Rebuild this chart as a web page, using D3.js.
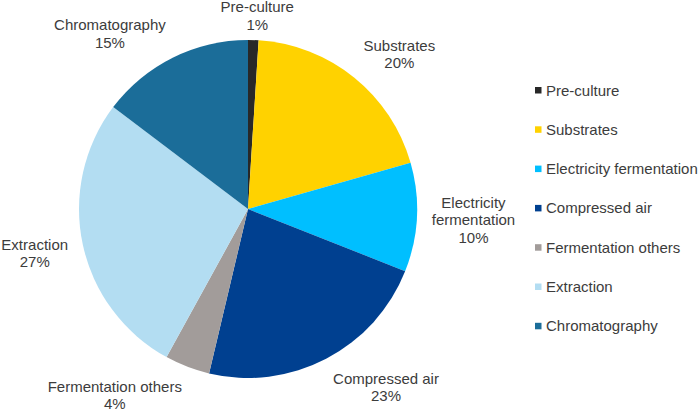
<!DOCTYPE html>
<html>
<head>
<meta charset="utf-8">
<script src="https://cdn.jsdelivr.net/npm/d3@7"></script>
<style>
  body { margin: 0; background: #fff; }
  text { font-family: "Liberation Sans", Arial, sans-serif; fill: #3c3c3c; }
</style>
</head>
<body>
<div id="chart"></div>
<script>
// cost shares (%)
const categories = ["Pre-culture", "Substrates", "Electricity fermentation", "Compressed air",
                    "Fermentation others", "Extraction", "Chromatography"];
const shares = [1.0, 19.6, 10.4, 22.7, 4.3, 27.3, 14.7];
const colors = ["#282828", "#ffd200", "#00bfff", "#004090", "#a29c9a", "#b3ddf2", "#1b6d99"];
// pie labels, split over lines as in the original
const labelLines = [
    ["Pre-culture"], ["Substrates"], ["Electricity", "fermentation"], ["Compressed air"],
    ["Fermentation others"], ["Extraction"], ["Chromatography"]
];

const width = 699, height = 409;
const cx = 248, cy = 209, radius = 169;
const fontSize = 15, lineH = 17.5;

const svg = d3.select("#chart").append("svg")
    .attr("width", width)
    .attr("height", height);

const data = categories.map((c, i) => ({ name: c, value: shares[i], color: colors[i], lines: labelLines[i] }));

const pie = d3.pie().value(d => d.value).sort(null);
const arc = d3.arc().innerRadius(0).outerRadius(radius);
const arcs = pie(data);

const g = svg.append("g").attr("transform", `translate(${cx},${cy})`);

g.selectAll("path")
    .data(arcs)
    .join("path")
    .attr("d", arc)
    .attr("fill", d => d.data.color);

// labels just outside the rim, box pushed away from the pie
const clamp = v => Math.max(-1, Math.min(1, v));
const gapX = 15, gapTop = 6, gapBottom = 13;

arcs.forEach(a => {
    const mid = (a.startAngle + a.endAngle) / 2;
    const s = Math.sin(mid), c = Math.cos(mid);
    const lines = [...a.data.lines, d3.format(".0f")(a.data.value) + "%"];
    const t = g.append("text")
        .attr("text-anchor", "middle")
        .style("font-size", fontSize + "px");
    lines.forEach((l, i) => {
        t.append("tspan").attr("x", 0).attr("y", i * lineH).text(l);
    });
    const bb = t.node().getBBox();
    const w = bb.width, h = lines.length * lineH;
    const gapY = c > 0 ? gapTop : gapBottom;
    const px = (radius + gapX) * s, py = -(radius + gapY) * c;
    const bx = px + (w / 2) * clamp(s * 3);
    const by = py - (h / 2) * clamp(c * 2);
    // centre the block on (bx, by)
    t.attr("transform", `translate(${bx},${by - h / 2 + lineH * 0.75})`);
});

// legend
const legend = svg.append("g").attr("transform", "translate(535, 90)");
const rowH = 39.3;

const item = legend.selectAll("g")
    .data(data)
    .join("g")
    .attr("transform", (d, i) => `translate(0, ${i * rowH})`);

item.append("rect")
    .attr("x", 0)
    .attr("y", -3)
    .attr("width", 6.5)
    .attr("height", 6.5)
    .attr("fill", d => d.color);

item.append("text")
    .attr("x", 11)
    .attr("y", 5.5)
    .style("font-size", fontSize + "px")
    .text(d => d.name);
</script>
</body>
</html>
